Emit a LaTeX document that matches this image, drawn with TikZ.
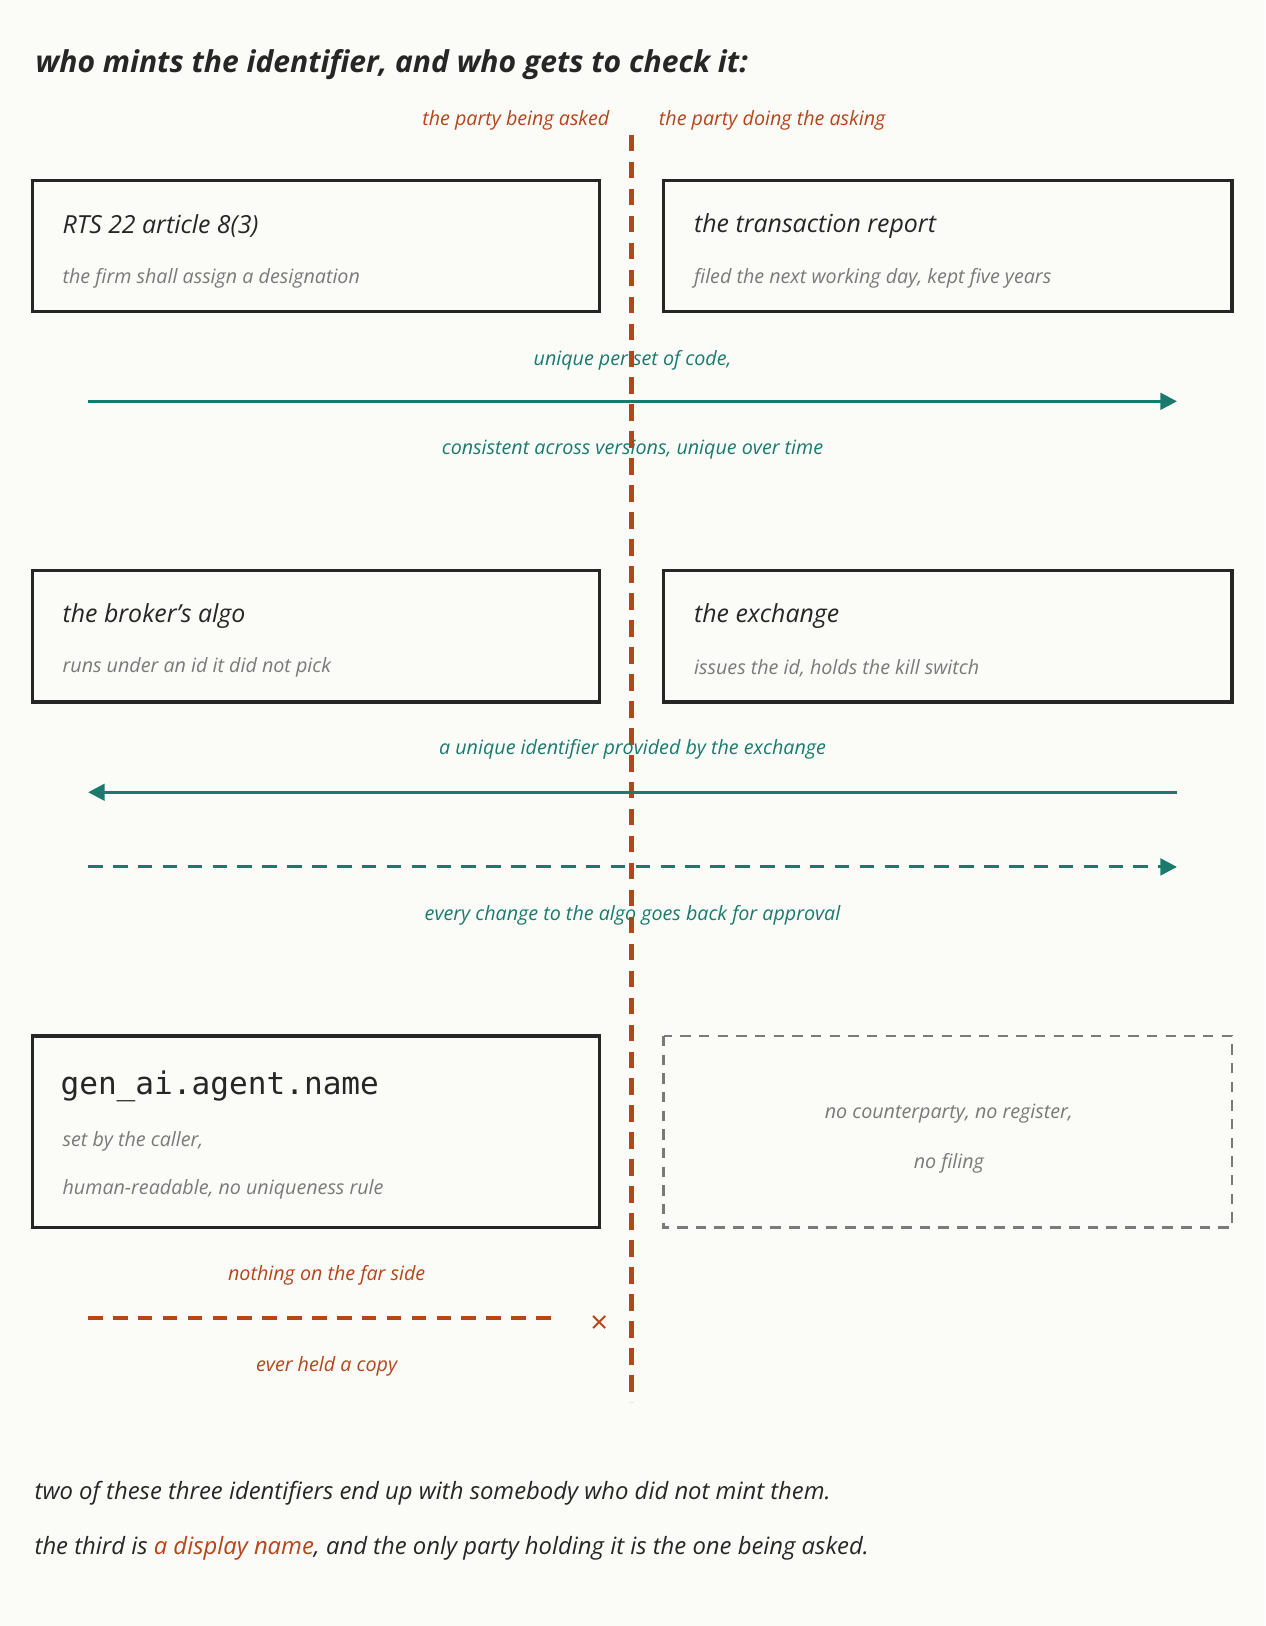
\documentclass[tikz,border=0pt]{standalone}
\usepackage{fontspec}
\setmainfont{Open Sans}
\setmonofont{DejaVu Sans Mono}
\usetikzlibrary{arrows.meta}
\definecolor{rust}{HTML}{B5451B}
\definecolor{teal}{HTML}{1A7A6E}
\definecolor{ink}{HTML}{262626}
\definecolor{soft}{HTML}{7A7A7A}
\definecolor{bg}{HTML}{FBFBF7}
\begin{document}
\begin{tikzpicture}[x=0.5pt,y=-0.5pt,
 box/.style={draw=ink,line width=1.5pt},
 ghost/.style={draw=soft,line width=1.3pt,dash pattern=on 5pt off 4pt},
 ttl/.style={anchor=west,inner sep=0pt,text=ink,font=\itshape\fontsize{12}{14}\selectfont},
 sub/.style={anchor=west,inner sep=0pt,text=soft,font=\itshape\fontsize{9.5}{12}\selectfont},
 lab/.style={text=teal,font=\itshape\fontsize{9.5}{12}\selectfont},
 rlab/.style={text=rust,font=\itshape\fontsize{9.5}{12}\selectfont},
 flow/.style={teal,line width=1.5pt,-{Triangle[length=8pt,width=8pt]}},
 foot/.style={anchor=west,inner sep=0pt,text=ink,font=\itshape\fontsize{11.5}{14}\selectfont}]
\fill[bg] (0,0) rectangle (1220,1568);
\useasboundingbox (0,0) rectangle (1220,1568);
\node[anchor=west,inner sep=0pt,text=ink,font=\bfseries\itshape\fontsize{14.5}{17}\selectfont] (title) at (34,62) {who mints the identifier, and who gets to check it:};
\node[rlab,anchor=east,inner sep=0pt] (asked) at (588,116) {the party being asked};
\node[rlab,anchor=west,inner sep=0pt] (asking) at (635,116) {the party doing the asking};
\coordinate (vt) at (609,130); \coordinate (vb) at (609,1352);
\draw[rust,line width=2.2pt,dash pattern=on 8pt off 5pt] (vt) -- (vb);
% row 1
\draw[box,fill=bg] (31,174) rectangle (578,300);
\node[ttl] (b1) at (60,218) {RTS 22 article 8(3)};
\node[sub] (b1s) at (60,268) {the firm shall assign a designation};
\draw[box,fill=bg] (640,174) rectangle (1188,300);
\node[ttl] (b2) at (669,218) {the transaction report};
\node[sub] (b2s) at (669,268) {filed the next working day, kept five years};
\coordinate (a1l) at (85,387); \coordinate (a1r) at (1135,387);
\draw[flow] (a1l) -- (a1r);
\node[lab] (l1) at (610,347) {unique per set of code,};
\node[lab] (l2) at (610,434) {consistent across versions, unique over time};
% row 2
\draw[box,fill=bg] (31,550) rectangle (578,677);
\node[ttl] (b3) at (60,594) {the broker’s algo};
\node[sub] (b3s) at (60,644) {runs under an id it did not pick};
\draw[box,fill=bg] (640,550) rectangle (1188,677);
\node[ttl] (b4) at (669,594) {the exchange};
\node[sub] (b4s) at (669,644) {issues the id, holds the kill switch};
\coordinate (a2l) at (85,764); \coordinate (a2r) at (1135,764);
\draw[flow] (a2r) -- (a2l);
\node[lab] (l3) at (610,723) {a unique identifier provided by the exchange};
\coordinate (a3l) at (85,836); \coordinate (a3r) at (1135,836);
\draw[flow,dash pattern=on 7pt off 5pt] (a3l) -- (a3r);
\node[lab] (l4) at (610,883) {every change to the algo goes back for approval};
% row 3
\draw[box,fill=bg] (31,999) rectangle (578,1184);
\node[anchor=west,inner sep=0pt,text=ink,font=\ttfamily\fontsize{15}{18}\selectfont] (b5) at (58,1048) {gen\_ai.agent.name};
\node[sub] (b5s) at (60,1101) {set by the caller,};
\node[sub] (b5t) at (60,1147) {human-readable, no uniqueness rule};
\draw[ghost,fill=bg] (640,999) rectangle (1188,1184);
\node[sub,anchor=center] (b6a) at (915,1074) {no counterparty, no register,};
\node[sub,anchor=center] (b6b) at (915,1122) {no filing};
\coordinate (rl) at (85,1271); \coordinate (rr) at (540,1271);
\draw[rust,line width=1.5pt,dash pattern=on 7pt off 5pt] (rl) -- (rr);
\node[text=rust,font=\fontsize{15}{16}\selectfont] (x) at (578,1277) {×};
\node[rlab] (n1) at (315,1230) {nothing on the far side};
\node[rlab] (n2) at (315,1318) {ever held a copy};
\node[foot] (f1) at (33,1440) {two of these three identifiers end up with somebody who did not mint them.};
\node[foot] (f2) at (33,1493) {the third is \textcolor{rust}{a display name}, and the only party holding it is the one being asked.};
\end{tikzpicture}
\end{document}
